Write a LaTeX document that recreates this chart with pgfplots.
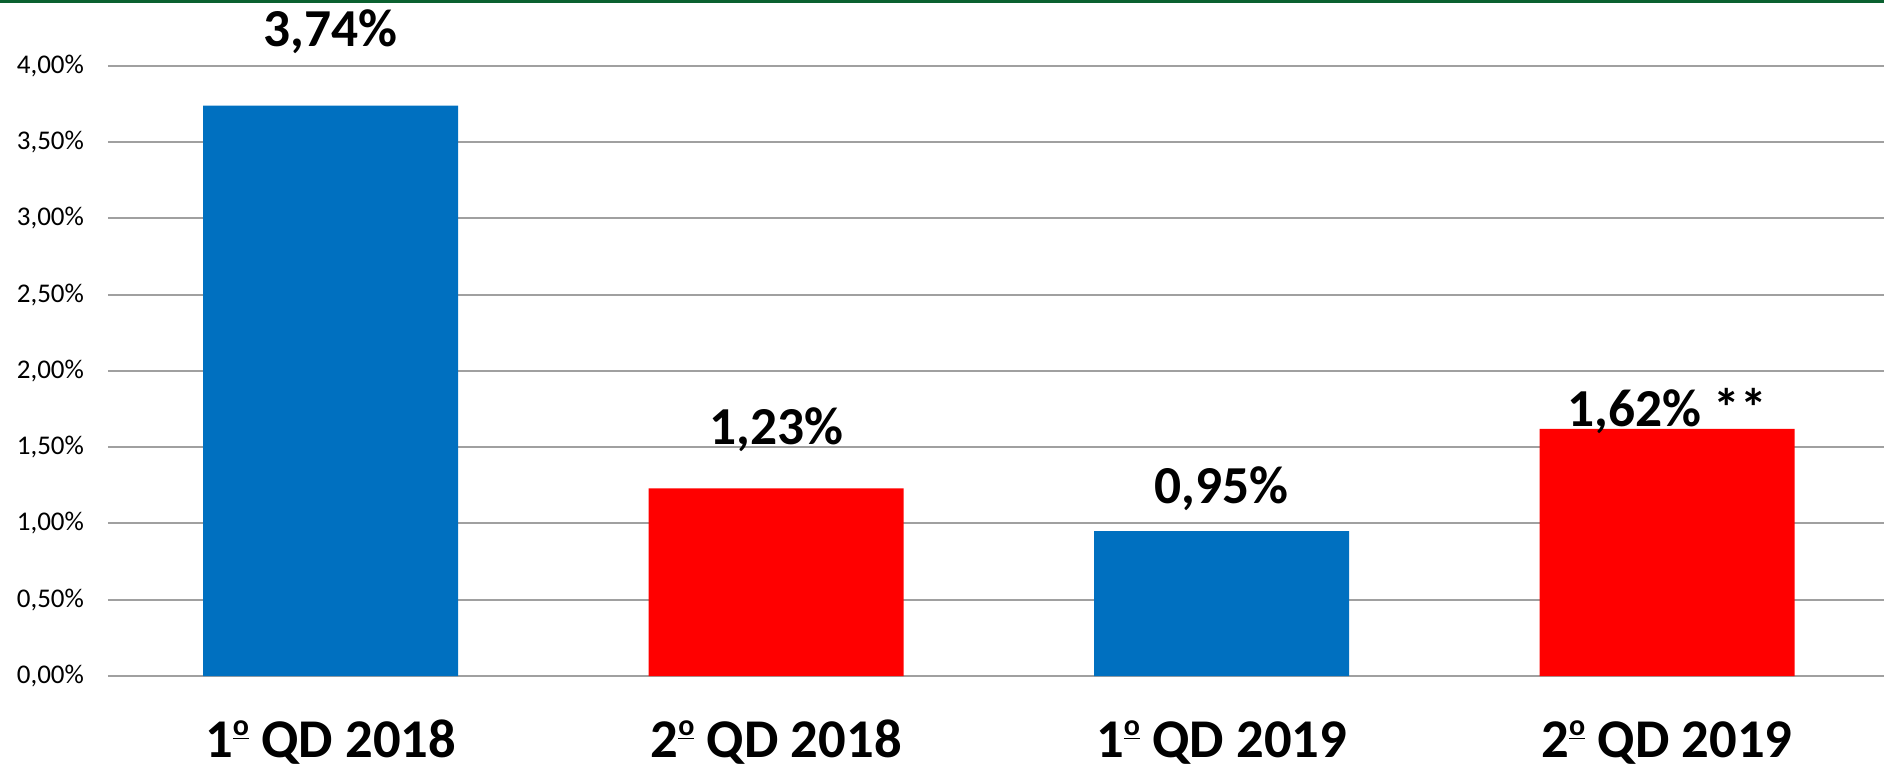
\documentclass[border=0pt]{standalone}
\usepackage{fontspec}
\setmainfont{Carlito}
\usepackage{pgfplots}
\pgfplotsset{compat=1.18}
\usetikzlibrary{calc}
\definecolor{barblue}{HTML}{0070C0}
\definecolor{barred}{HTML}{FF0000}
\definecolor{topgreen}{HTML}{0B6130}
\definecolor{gridgray}{HTML}{A0A0A0}
\newcommand{\ordo}{\raisebox{0.4em}{\underline{\fontsize{15}{15}\selectfont o}}}
\begin{document}
\begin{tikzpicture}
\begin{axis}[
  scale only axis, width=888pt, height=305pt,
  xmin=-0.5, xmax=3.487, ymin=0, ymax=4,
  axis line style={draw=none},
  ytick={0,0.5,1,1.5,2,2.5,3,3.5,4},
  yticklabels={{0,00\%},{0,50\%},{1,00\%},{1,50\%},{2,00\%},{2,50\%},{3,00\%},{3,50\%},{4,00\%}},
  ymajorgrids, grid style={gridgray, line width=1pt},
  major tick length=0pt,
  xtick={0,1,2,3},
  xticklabels={1\ordo\ QD 2018,2\ordo\ QD 2018,1\ordo\ QD 2019,2\ordo\ QD 2019},
  yticklabel style={font=\fontsize{13.5}{15}\selectfont, xshift=-8.5pt},
  xticklabel style={font=\bfseries\fontsize{27.3}{30}\selectfont, anchor=base, yshift=-40.5pt},
  ybar, bar width=127.5pt, clip=false,
]
\addplot[fill=barblue, draw=none, bar shift=0pt] coordinates {(0,3.74) (2,0.95)};
\addplot[fill=barred, draw=none, bar shift=0pt] coordinates {(1,1.23) (3,1.62)};
\node[anchor=base, font=\bfseries\fontsize{26.7}{30}\selectfont] at (axis cs:0,4.125) {3,74\%};
\node[anchor=base, font=\bfseries\fontsize{26.7}{30}\selectfont] at (axis cs:1,1.517) {1,23\%};
\node[anchor=base, font=\bfseries\fontsize{26.7}{30}\selectfont] at (axis cs:2,1.132) {0,95\%};
\node[anchor=base, font=\bfseries\fontsize{26.7}{30}\selectfont] at (axis cs:3,1.635) {1,62\% **};
\end{axis}
\pgfresetboundingbox
\path[use as bounding box] ($(current axis.south west)+(-54pt,-44.5pt)$) rectangle ($(current axis.north east)+(0,33pt)$);
\fill[topgreen] ($(current axis.north west)+(-54pt,33pt)$) rectangle ($(current axis.north east)+(0,31.5pt)$);
\end{tikzpicture}
\end{document}
